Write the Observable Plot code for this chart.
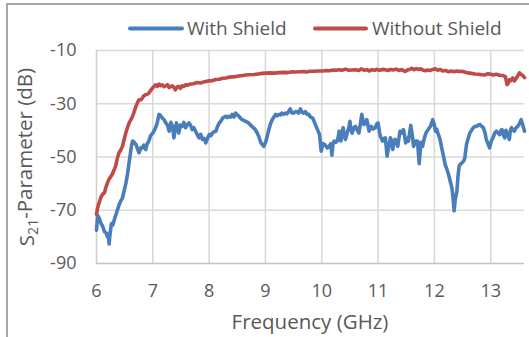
<!DOCTYPE html>
<html>
<head>
<meta charset="utf-8">
<script src="https://cdn.jsdelivr.net/npm/d3@7"></script>
<script src="https://cdn.jsdelivr.net/npm/@observablehq/plot@0.6"></script>
<style>
  html, body { margin: 0; padding: 0; background: #ffffff; }
  #wrap { position: relative; width: 529px; height: 337px; overflow: hidden; background: #fff; }
  #frame { position: absolute; left: 6px; top: 3px; width: 700px; height: 500px; border: 2px solid #a6a6a6; box-sizing: border-box; }
  #chart { position: absolute; left: 0; top: 0; }
</style>
</head>
<body>
<div id="wrap">
  <div id="frame"></div>
  <div id="chart"></div>
</div>
<script>
// ---- Data ----
const seriesNames = ["With Shield", "Without Shield"];
const xTicks = [6, 7, 8, 9, 10, 11, 12, 13];
const yTicks = [-90, -70, -50, -30, -10];

const withFreq = [6.00,6.02,6.05,6.08,6.11,6.14,6.17,6.195,6.21,6.224,6.24,6.266,6.29,6.31,6.34,6.37,6.40,6.43,6.46,6.49,6.52,6.55,6.58,6.60,6.62,6.64,6.67,6.70,6.73,6.755,6.79,6.815,6.84,6.874,6.90,6.93,6.96,7.00,7.05,7.08,7.11,7.14,7.17,7.20,7.23,7.26,7.29,7.32,7.35,7.375,7.40,7.42,7.44,7.46,7.49,7.52,7.55,7.58,7.61,7.64,7.67,7.70,7.73,7.76,7.79,7.82,7.85,7.88,7.91,7.94,7.97,8.00,8.03,8.06,8.09,8.12,8.15,8.18,8.21,8.24,8.27,8.29,8.32,8.35,8.38,8.41,8.44,8.47,8.50,8.53,8.56,8.59,8.62,8.65,8.70,8.76,8.82,8.85,8.88,8.92,8.97,9.01,9.04,9.06,9.09,9.12,9.15,9.18,9.21,9.24,9.27,9.29,9.32,9.35,9.38,9.41,9.44,9.47,9.50,9.53,9.56,9.59,9.62,9.65,9.68,9.71,9.74,9.77,9.80,9.84,9.87,9.90,9.93,9.96,9.99,10.02,10.05,10.08,10.10,10.13,10.16,10.18,10.20,10.22,10.25,10.28,10.31,10.34,10.36,10.38,10.40,10.42,10.46,10.48,10.50,10.52,10.54,10.57,10.60,10.63,10.66,10.69,10.71,10.73,10.75,10.78,10.80,10.82,10.84,10.86,10.88,10.91,10.95,10.98,11.00,11.02,11.04,11.06,11.08,11.11,11.13,11.16,11.19,11.22,11.24,11.26,11.28,11.30,11.33,11.35,11.37,11.39,11.42,11.45,11.47,11.49,11.52,11.54,11.56,11.58,11.61,11.63,11.65,11.67,11.70,11.73,11.76,11.79,11.82,11.85,11.88,11.91,11.93,11.97,12.00,12.02,12.04,12.06,12.08,12.10,12.13,12.16,12.19,12.22,12.25,12.28,12.31,12.33,12.35,12.37,12.40,12.42,12.44,12.47,12.49,12.52,12.54,12.57,12.60,12.63,12.66,12.69,12.72,12.75,12.78,12.81,12.84,12.87,12.90,12.92,12.95,12.98,13.01,13.04,13.07,13.10,13.13,13.16,13.18,13.20,13.23,13.25,13.27,13.29,13.31,13.33,13.35,13.37,13.40,13.42,13.45,13.48,13.51,13.54,13.57,13.60];
const withDb = [-77.5,-72,-73,-75,-76,-78,-78.5,-80,-79,-82.7,-79,-75,-75.5,-74,-72,-70,-68,-66.5,-65.5,-62.8,-60,-56.5,-52,-49,-46,-44,-44.5,-45.3,-47,-48.4,-46.5,-46.6,-45.5,-47.2,-45,-44,-42,-41,-39,-37,-34,-34.5,-35.4,-36,-37.2,-38,-40.3,-37,-38.5,-42.8,-39,-37.2,-39,-41,-38,-38.5,-37,-39,-38,-37.2,-38,-39.7,-39,-40.3,-41.6,-42.8,-41.5,-43.4,-43,-44.7,-43,-41.6,-42,-41,-40.5,-40.3,-38.5,-37.2,-36.5,-35.4,-35,-34.7,-35.2,-34.7,-35,-34,-35,-33.5,-34.2,-34.7,-35.5,-36,-36.3,-36.6,-37.2,-38.5,-39.7,-40.8,-42.2,-44.7,-46,-44,-41.5,-39.7,-37.5,-36,-35,-34,-34.5,-34,-34.2,-33.5,-34,-33.5,-33.8,-33,-31.9,-33.5,-33.5,-33,-32.9,-33.5,-31.9,-33.2,-33.5,-33,-34,-34,-35,-35.4,-37,-38.5,-40,-41.6,-47.8,-45,-45.3,-46,-46.6,-46,-45,-49.3,-45,-44,-44.5,-43.8,-40.3,-44,-41,-39,-42,-43.4,-40.3,-39,-36.6,-40,-41,-39,-38.5,-40,-41,-37,-34,-36,-37.8,-37,-36,-38,-40.3,-39,-38.5,-39.5,-39,-37.5,-37.2,-40,-42.2,-43,-44,-43,-42.8,-49.7,-46,-42.8,-44,-47.2,-45,-43.4,-44,-46,-43,-40.3,-41,-39.7,-42,-44.7,-43,-44,-41,-38.1,-42,-46,-45,-44,-44,-52.5,-44.5,-46,-43,-41,-40,-39,-38.5,-36,-38,-40.3,-39.5,-41,-42,-43.4,-46.6,-49.5,-52.8,-54.5,-56.5,-59,-61.5,-65,-70.2,-66,-62.8,-57,-53.4,-52.5,-52.2,-51.5,-50.3,-45.3,-43,-41,-40,-39,-38.5,-38.5,-38,-37.8,-38.5,-39,-41,-43.4,-45,-46.6,-44,-42.8,-41,-40.3,-41,-41.6,-40,-39.7,-42,-42.8,-40,-41,-42,-43.4,-40,-39,-40,-40.3,-39,-38.5,-37.5,-36,-38,-40.3];

const withoutFreq = [6.00,6.02,6.05,6.08,6.11,6.14,6.165,6.19,6.22,6.25,6.28,6.31,6.34,6.37,6.40,6.43,6.46,6.49,6.52,6.55,6.58,6.61,6.64,6.67,6.70,6.73,6.755,6.79,6.815,6.84,6.874,6.90,6.93,6.96,7.00,7.03,7.05,7.08,7.11,7.14,7.17,7.20,7.23,7.26,7.29,7.32,7.35,7.38,7.40,7.43,7.46,7.49,7.52,7.55,7.58,7.62,7.67,7.72,7.79,7.85,7.92,8.00,8.06,8.12,8.18,8.24,8.30,8.36,8.42,8.47,8.53,8.60,8.65,8.70,8.80,8.87,8.94,9.00,9.08,9.16,9.24,9.32,9.40,9.48,9.53,9.60,9.68,9.73,9.79,9.86,9.94,10.02,10.08,10.14,10.20,10.26,10.31,10.36,10.42,10.48,10.54,10.60,10.66,10.70,10.75,10.80,10.85,10.89,10.94,10.98,11.03,11.08,11.13,11.18,11.22,11.27,11.32,11.37,11.42,11.48,11.52,11.56,11.60,11.64,11.68,11.72,11.76,11.80,11.84,11.88,11.93,11.97,12.02,12.06,12.10,12.15,12.20,12.25,12.30,12.35,12.40,12.45,12.49,12.55,12.60,12.66,12.72,12.78,12.84,12.90,12.95,13.00,13.05,13.10,13.16,13.22,13.26,13.29,13.31,13.33,13.36,13.39,13.42,13.45,13.48,13.51,13.54,13.57,13.60];
const withoutDb = [-71.5,-69,-67,-65,-64,-63.5,-61.5,-60,-58.4,-57.5,-56.5,-55,-53.4,-50.5,-48.4,-47.5,-46,-43.5,-41,-39,-37.2,-36,-34.7,-33,-31,-29.5,-28.5,-28.5,-27.9,-27,-26.6,-26.5,-26,-25,-24,-23.3,-22.9,-23.5,-22.6,-23.2,-22.9,-23.6,-23.3,-22.8,-23.9,-23.5,-23.3,-24,-24.8,-23.8,-23.5,-24.2,-23.3,-23.5,-22.9,-23.0,-22.6,-22.5,-22,-22.2,-21.7,-21.4,-21.3,-20.9,-20.8,-20.4,-20.3,-20,-19.9,-19.8,-19.6,-19.4,-19.2,-19.1,-19,-18.8,-18.6,-18.5,-18.4,-18.5,-18.3,-18.2,-18.3,-18.0,-18.1,-18.0,-17.9,-18.1,-17.8,-17.8,-17.7,-17.7,-17.5,-17.6,-17.3,-17.4,-17.2,-17.4,-17.0,-17.4,-17.3,-17.2,-17.5,-16.9,-17.4,-17.2,-17.7,-17.2,-17.4,-17.1,-17.4,-17.1,-17.2,-17.5,-17.1,-17.3,-17.0,-17.5,-17.2,-17.9,-17.3,-17.1,-16.7,-17.2,-16.8,-17.1,-16.9,-17.4,-17.6,-17.3,-17.5,-17.1,-16.9,-17.4,-17.1,-17.7,-17.5,-18.0,-17.7,-18.0,-17.7,-17.9,-17.8,-18.2,-18.4,-18.6,-18.8,-18.9,-19.1,-19.2,-18.7,-18.9,-19.2,-18.9,-19.3,-19.4,-19.8,-22.8,-22.3,-21.0,-21.3,-20.3,-21.4,-20.5,-19.5,-18.4,-19.0,-19.4,-20.2];

const seriesColors = ["#4a7ebb", "#be4b48"];

const withData = withFreq.map((f, i) => ({f, v: withDb[i]}));
const withoutData = withoutFreq.map((f, i) => ({f, v: withoutDb[i]}));

const FONT = "'Open Sans', sans-serif";
const TXT = "#595959";

const svg = Plot.plot({
  width: 529,
  height: 337,
  marginLeft: 96,
  marginRight: 5,
  marginTop: 50,
  marginBottom: 74,
  style: {fontFamily: FONT, fontSize: "18px", color: TXT, background: "transparent", overflow: "visible"},
  x: {domain: [6, 13.6]},
  y: {domain: [-90, -10]},
  marks: [
    Plot.gridX(xTicks.slice(1), {stroke: "#d9d9d9", strokeOpacity: 1, strokeWidth: 1.6}),
    Plot.gridY(yTicks.slice(1), {stroke: "#d9d9d9", strokeOpacity: 1, strokeWidth: 1.6}),
    Plot.ruleX([6], {stroke: "#cfcfcf", strokeWidth: 1.6}),
    Plot.ruleY([-90], {stroke: "#c4c4c4", strokeWidth: 1.6}),
    Plot.line(withData, {x: "f", y: "v", stroke: seriesColors[0], strokeWidth: 3.6, strokeLinejoin: "round", strokeLinecap: "round"}),
    Plot.line(withoutData, {x: "f", y: "v", stroke: seriesColors[1], strokeWidth: 3.6, strokeLinejoin: "round", strokeLinecap: "round"}),
    Plot.axisX(xTicks, {tickSize: 0, tickPadding: 21, tickFormat: d => String(d), label: null, fill: TXT}),
    Plot.axisY(yTicks, {tickSize: 0, tickPadding: 20, tickFormat: d => String(d), label: null, fill: TXT})
  ]
});

const s = d3.select(svg);
// x-axis title
s.append("text")
  .attr("x", 310).attr("y", 329)
  .attr("text-anchor", "middle")
  .attr("fill", TXT)
  .style("font-family", FONT).style("font-size", "20.5px")
  .text("Frequency (GHz)");
// y-axis title with subscript
const yt = s.append("text")
  .attr("transform", "translate(34,157) rotate(-90)")
  .attr("text-anchor", "middle")
  .attr("fill", TXT)
  .style("font-family", FONT).style("font-size", "20.5px");
yt.append("tspan").text("S");
yt.append("tspan").attr("dy", "0.3em").style("font-size", "14px").text("21");
yt.append("tspan").attr("dy", "-0.3em").text("-Parameter (dB)");

// legend
const legend = s.append("g").style("font-family", FONT).style("font-size", "19px");
const legendItems = [{x0: 130, x1: 182, tx: 187}, {x0: 315, x1: 366, tx: 372}];
seriesNames.forEach((name, i) => {
  const it = legendItems[i];
  legend.append("line").attr("x1", it.x0).attr("x2", it.x1).attr("y1", 28.5).attr("y2", 28.5)
    .attr("stroke", seriesColors[i]).attr("stroke-width", 4).attr("stroke-linecap", "round");
  legend.append("text").attr("x", it.tx).attr("y", 35).attr("text-anchor", "start").attr("fill", TXT).text(name);
});

document.getElementById("chart").appendChild(svg);
</script>
</body>
</html>
